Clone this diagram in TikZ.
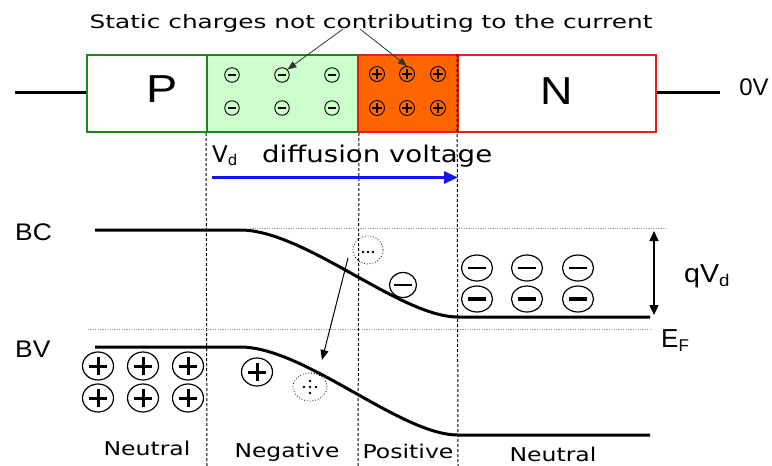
\documentclass[tikz,border=0pt]{standalone}
\usepackage{graphicx}
\usepackage{fontspec}
\setmainfont{DejaVu Sans}
\newfontfamily\arialf{Liberation Sans}
\usetikzlibrary{arrows.meta,shapes.geometric}
\definecolor{pgreen}{RGB}{30,135,30}
\definecolor{lgreen}{RGB}{204,255,204}
\definecolor{norange}{RGB}{255,102,0}
\definecolor{nred}{RGB}{232,30,30}
\definecolor{vblue}{RGB}{20,20,235}
\newcommand{\sx}[2]{\scalebox{#1}[1]{#2}}
\tikzset{
  boxpart/.style={rectangle,inner sep=0pt,line width=2pt},
  wire/.style={line width=3pt},
  band/.style={line width=3pt},
  vsep/.style={line width=1pt,dash pattern=on 3pt off 2pt},
  hdot/.style={line width=1pt,gray!80,dash pattern=on 1.2pt off 1.2pt},
  smallneg/.style={circle,draw,line width=0.9pt,minimum size=14.5pt,inner sep=0pt,
    path picture={\draw[line width=2.3pt] ([xshift=-4pt]path picture bounding box.center)--([xshift=4pt]path picture bounding box.center);}},
  smallpos/.style={circle,draw,line width=0.9pt,minimum size=15pt,inner sep=0pt,
    path picture={\draw[line width=2pt] ([xshift=-5pt]path picture bounding box.center)--([xshift=5pt]path picture bounding box.center);
                  \draw[line width=2pt] ([yshift=-5pt]path picture bounding box.center)--([yshift=5pt]path picture bounding box.center);}},
  bigpos/.style={ellipse,draw,line width=1.2pt,minimum width=31pt,minimum height=28pt,inner sep=0pt,
    path picture={\draw[line width=3pt] ([xshift=-9pt]path picture bounding box.center)--([xshift=9pt]path picture bounding box.center);
                  \draw[line width=3pt] ([yshift=-9pt]path picture bounding box.center)--([yshift=9pt]path picture bounding box.center);}},
  bigneg/.style={ellipse,draw,line width=1.2pt,minimum width=31pt,minimum height=26pt,inner sep=0pt,
    path picture={\draw[line width=#1] ([xshift=-9pt]path picture bounding box.center)--([xshift=9pt]path picture bounding box.center);}},
  bigneg/.default=2pt,
  carrier/.style={ellipse,draw,line width=0.8pt,dotted,minimum width=#1,minimum height=28pt,inner sep=0pt},
  dotm/.style={circle,fill,inner sep=0pt,minimum size=2.6pt},
  tip/.style={-{Triangle[length=9pt,width=7pt]}},
  lab/.style={inner sep=0pt,font=\fontsize{19}{19}\selectfont},
  alab/.style={inner sep=0pt,font=\arialf\fontsize{24}{24}\selectfont},
}
\begin{document}
\begin{tikzpicture}[x=1pt,y=-1pt]
\useasboundingbox (0,0) rectangle (772,466);
\fill[white] (0,0) rectangle (772,466);

% title
\node[inner sep=0pt,anchor=base,font=\fontsize{18.5}{18.5}\selectfont] (title) at (371,28) {\sx{1.34}{Static charges not contributing to the current}};

% diode bar
\node[boxpart,draw=pgreen,fill=lgreen,minimum width=151pt,minimum height=77pt] (grn) at (282.5,93.5) {};
\node[boxpart,draw=pgreen,minimum width=120pt,minimum height=77pt] (pbox) at (147,93.5) {};
\node[boxpart,draw=nred,fill=norange,minimum width=100pt,minimum height=77pt] (obox) at (408,93.5) {};
\node[boxpart,draw=nred,minimum width=198pt,minimum height=77pt] (nbox) at (557,93.5) {};
\node[inner sep=0pt,anchor=base,font=\arialf\fontsize{39}{39}\selectfont] (P) at (162,102) {\sx{1.2}{P}};
\node[inner sep=0pt,anchor=base,font=\arialf\fontsize{39}{39}\selectfont] (N) at (557,104) {\sx{1.15}{N}};
\coordinate (wl) at (15,92);
\coordinate (wr) at (720,92);
\draw[wire] (wl) -- (wl -| pbox.west);
\draw[wire] (wr -| nbox.east) -- (wr);
\node[alab,anchor=base] (zv) at (754,95) {0V};

% fixed charges
\foreach \x [count=\i] in {232,282,332}{
  \node[smallneg] (m\i a) at (\x,75) {};
  \node[smallneg] (m\i b) at (\x,108) {};
}
\foreach \x [count=\i] in {377,407,438}{
  \node[smallpos] (p\i a) at (\x,74) {};
  \node[smallpos] (p\i b) at (\x,108) {};
}
\coordinate (a1) at (343,29);
\coordinate (a2) at (360,29);
\draw[tip,line width=0.8pt,black!80] (a1) -- (m2a.north east);
\draw[tip,line width=0.8pt,black!80] (a2) -- (p2a.north);

% vertical dashed separators
\coordinate (s1) at (207,466);
\coordinate (s2) at (358,466);
\coordinate (s3) at (458,466);
\draw[vsep] (grn.south west) -- (s1);
\draw[vsep] (grn.south east) -- (s2);
\draw[vsep] (nbox.north west) -- (s3);

% diffusion voltage
\node[inner sep=0pt,anchor=base west,font=\fontsize{23}{23}\selectfont] (vd) at (212,162) {V\raisebox{-0.25ex}{\fontsize{15}{15}\selectfont d}};
\node[inner sep=0pt,anchor=base west,font=\fontsize{23}{23}\selectfont] (diff) at (262,162) {\sx{1.2}{diffusion voltage}};
\coordinate (vb1) at (212,177.5);
\coordinate (vb2) at (458,177.5);
\draw[line width=3pt,vblue,-{Triangle[length=14pt,width=12pt]}] (vb1) -- (vb2);

% band diagram
\node[alab,anchor=base west] (bc) at (15,240) {\sx{1.1}{BC}};
\node[alab,anchor=base west] (bv) at (15,357) {\sx{1.1}{BV}};
\coordinate (bc0) at (95,230);
\coordinate (bc1) at (240,230);
\coordinate (bc2) at (458,317);
\coordinate (bc3) at (650,317);
\draw[band] (bc0) -- (bc1) .. controls (305,230) and (400,317) .. (bc2) -- (bc3);
\coordinate (bv0) at (95,347);
\coordinate (bv1) at (240,347);
\coordinate (bv2) at (458,435);
\coordinate (bv3) at (650,435);
\draw[band] (bv0) -- (bv1) .. controls (305,347) and (400,435) .. (bv2) -- (bv3);

\coordinate (h1a) at (250,228);
\coordinate (h1b) at (667,228);
\draw[hdot] (h1a) -- (h1b);
\coordinate (h2a) at (88,329);
\coordinate (h2b) at (652,329);
\draw[hdot] (h2a) -- (h2b);

\coordinate (q1) at (654,231);
\coordinate (q2) at (654,315);
\draw[line width=1.5pt,{Triangle[length=10pt,width=9pt]}-{Triangle[length=10pt,width=9pt]}] (q1) -- (q2);
\node[alab,anchor=base west,font=\arialf\fontsize{26}{26}\selectfont] (qvd) at (684,282) {\sx{1.1}{qV\raisebox{-0.3ex}{\fontsize{17}{17}\selectfont d}}};
\node[alab,anchor=base west,font=\arialf\fontsize{26}{26}\selectfont] (ef) at (661,347) {E\raisebox{-0.3ex}{\fontsize{17}{17}\selectfont F}};

% mobile charges
\foreach \x [count=\i] in {98,143,188}{
  \node[bigpos] (h\i a) at (\x,366) {};
  \node[bigpos] (h\i b) at (\x,398) {};
}
\node[bigpos] (hn) at (257,372) {};
\foreach \x [count=\i] in {477,527,578}{
  \node[bigneg=2pt] (e\i a) at (\x,268) {};
  \node[bigneg=3.5pt] (e\i b) at (\x,299) {};
}
\node[bigneg=2pt,minimum width=27pt,minimum height=25pt] (ep) at (403,285) {};

\node[carrier=30pt] (el) at (368,250) {};
\node[dotm] (el1) at (363,252) {};
\node[dotm] (el2) at (368,252) {};
\node[dotm] (el3) at (373,252) {};
\node[carrier=34pt] (ho) at (310,387) {};
\node[dotm] (ho0) at (310,387) {};
\node[dotm] (ho1) at (310,381) {};
\node[dotm] (ho2) at (310,393) {};
\node[dotm] (ho3) at (304,387) {};
\node[dotm] (ho4) at (316,387) {};
\coordinate (ts) at (348,258);
\coordinate (te) at (322,360);
\draw[line width=1pt,-{Triangle[length=10pt,width=8pt]}] (ts) -- (te);

% region labels
\node[lab,anchor=base] (l1) at (147,455) {\sx{1.24}{Neutral}};
\node[lab,anchor=base] (l2) at (287,457) {\sx{1.23}{Negative}};
\node[lab,anchor=base] (l3) at (408,458) {\sx{1.24}{Positive}};
\node[lab,anchor=base] (l4) at (553,461) {\sx{1.24}{Neutral}};
\end{tikzpicture}
\end{document}
